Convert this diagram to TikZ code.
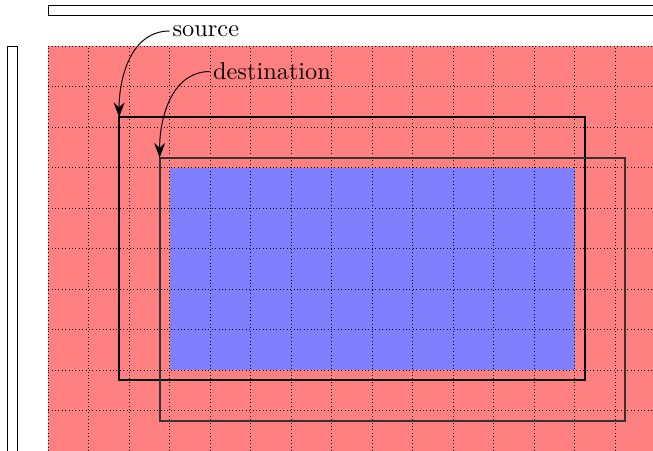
\documentclass[tikz,border=0pt]{standalone}
\usetikzlibrary{arrows.meta}

\begin{document}
\begin{tikzpicture}[scale=0.585]
			%%%%% START %%%%%
			\useasboundingbox (-1.19, 1.14) rectangle (14.93, -9.98);
			
			% scroll bars
			\draw[fill=white] (0, 1) rectangle (16, 0.75);
			\draw[fill=white] (-1, 0) rectangle (-0.75, -11);
			
			% window area
			\fill[red!50] (0, 0) rectangle (16, -11);
			\fill[blue!50] (3, -3) rectangle (13, -8);
			\draw[densely dotted] (0, -11) grid (16, 0);
			
			% corners
			\coordinate (src) at (1.75, -1.75);
			\coordinate (dst) at (2.75, -2.75);
			
			\draw[thick] (src) rectangle (13.25, -8.25);
			\draw[thick, color=black!80] (dst) rectangle (14.25, -9.25);
			
			\node[anchor=west, inner sep=1pt] (srclabel) at (3, 0.375) {source};
			\node[anchor=west, inner sep=1pt] (dstlabel) at (4, -0.625) {destination};
			
			\draw[-{Stealth[length=6pt, width=4.5pt, inset=2pt]}] (srclabel.west) to[out=180, in=90] (src);
			\draw[-{Stealth[length=6pt, width=4.5pt, inset=2pt]}] (dstlabel.west) to[out=180, in=90] (dst);
			
			%%%%% END %%%%%
\end{tikzpicture}
\end{document}
